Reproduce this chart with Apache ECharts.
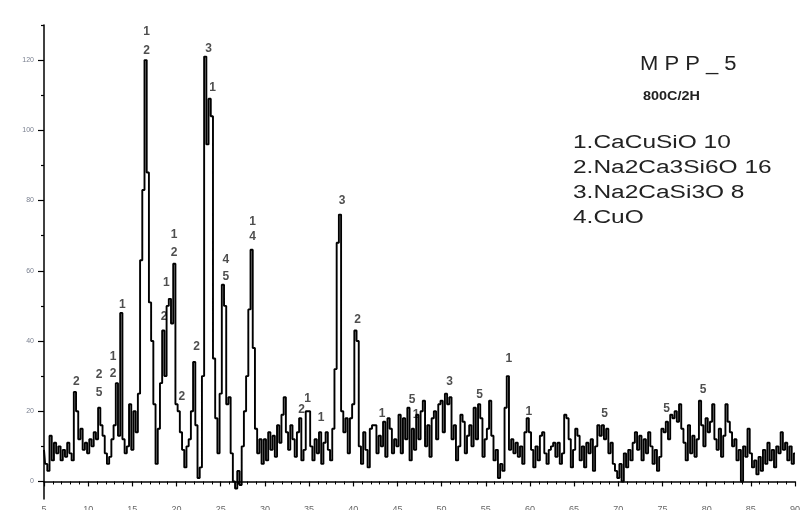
<!DOCTYPE html>
<html>
<head>
<meta charset="utf-8">
<script src="https://cdn.jsdelivr.net/npm/echarts@6/dist/echarts.min.js"></script>
<style>
  html, body { margin: 0; background: #fff; }
  #chart { width: 800px; height: 510px; }
</style>
</head>
<body>
<div id="chart"></div>
<script>
// scan grid: 2-theta from 5 deg, one reading every 0.25 deg
const twoThetaStart = 5;
const twoThetaStep = 0.25;
const intensity = [
  9, 5, 3, 13, 6, 11, 8, 10, 6, 9,
  7, 11, 8, 6, 25.5, 20, 12, 15, 9, 11,
  8, 12, 10, 14, 12, 21, 16, 13, 8, 5,
  7, 12, 16, 28, 13, 48, 12, 8, 10, 22,
  9, 20, 14, 25, 63, 83, 120, 88, 51, 40,
  22, 5, 15, 28, 43, 30, 50, 52, 45, 62,
  22, 20, 14, 9, 4, 10, 12, 20, 34, 16,
  1, 4, 30, 121, 96, 109, 104, 35, 18, 8,
  25, 56, 50, 22, 24, 8, 0, -2, 3, -1,
  10, 20, 30, 49, 66, 38, 15, 8, 12, 5,
  12, 6, 14, 9, 13, 7, 16, 11, 19, 24,
  14, 9, 16, 12, 7, 14, 18, 6, 9, 20,
  20, 10, 6, 12, 8, 14, 5, 11, 14, 9,
  6, 15, 32, 68, 76, 20, 14, 18, 8, 18,
  22, 43, 40, 10, 5, 14, 9, 4, 15, 16,
  16, 8, 13, 10, 17, 7, 18, 15, 8, 12,
  10, 19, 8, 18, 12, 21, 6, 15, 9, 19,
  12, 20, 23, 10, 16, 7, 18, 20, 12, 22,
  23, 14, 25, 22, 24, 12, 16, 6, 10, 19,
  17, 8, 13, 16, 10, 21, 12, 22, 18, 7,
  12, 15, 23, 13, 6, 9, 1, 5, 3, 21,
  30, 9, 12, 8, 11, 7, 10, 5, 14, 18,
  14, 9, 4, 10, 6, 13, 14, 8, 5, 9,
  10, 11, 7, 11, 5, 8, 19, 18, 12, 4,
  9, 15, 13, 6, 10, 4, 11, 8, 12, 3,
  10, 16, 13, 16, 12, 15, 8, 11, 5, 3,
  1, 5, 0, 8, 4, 9, 6, 11, 14, 9,
  13, 6, 12, 8, 14, 10, 5, 9, 3, 7,
  15, 14, 17, 12, 19, 18, 20, 17, 22, 15,
  11, 6, 16, 8, 13, 7, 12, 23, 16, 10,
  18, 14, 17, 22, 12, 9, 15, 7, 13, 22,
  17, 14, 10, 12, 6, 9, 0, 10, 7, 15,
  8, 4, 6, 2, 7, 3, 9, 5, 11, 6,
  9, 4, 10, 8, 14, 9, 11, 6, 10, 5, 8
];

// phase marks above the peaks
const peakLabelX = [8.66, 11.23, 11.23, 12.82, 12.82, 13.87, 16.6, 16.6, 18.86, 18.6,
  19.73, 19.73, 20.6, 22.26, 23.62, 24.07, 25.59, 25.59, 28.61, 28.61,
  34.16, 34.84, 36.36, 38.74, 40.5, 43.27, 46.67, 47.12, 50.9, 54.3,
  57.62, 59.88, 68.46, 75.46, 79.6];
const peakLabelY = [28.4, 30.3, 25.3, 35.5, 30.8, 50.3, 128.2, 122.8, 56.5, 46.9,
  70.2, 65.2, 24.1, 38.4, 123.2, 112.1, 63.3, 58.4, 74, 69.7,
  20.4, 23.7, 18.3, 80, 46.2, 19.4, 23.2, 18.9, 28.4, 24.6,
  35.1, 19.9, 19.4, 20.8, 26.1];
const peakLabelText = ["2", "2", "5", "1", "2", "1", "1", "2", "1", "2",
  "1", "2", "2", "2", "3", "1", "4", "5", "1", "4",
  "2", "1", "1", "3", "2", "1", "5", "1", "3", "5",
  "1", "1", "5", "5", "5"];

const yLabelValues = [0, 20, 40, 60, 80, 100, 120];
const yMinorTicks = [10, 30, 50, 70, 90, 110, 130];

const sampleName = "M P P _ 5";
const sampleNote = "800C/2H";
const phaseNames = ["1.CaCuSiO 10", "2.Na2Ca3Si6O 16", "3.Na2CaSi3O 8", "4.CuO"];

const chart = echarts.init(document.getElementById("chart"));

const points = intensity.map((v, i) => [twoThetaStart + i * twoThetaStep, v]);
const marks = peakLabelX.map((x, i) => [x, peakLabelY[i], peakLabelText[i]]);

const font = '"Liberation Sans", Arial, sans-serif';

const phaseText = phaseNames.map((t, i) => ({
  type: "text",
  x: 573,
  y: 143 + i * 25,
  scaleX: 1.36,
  style: {
    text: t,
    font: '18px ' + font,
    fill: "#222",
    textVerticalAlign: "middle"
  }
}));

const option = {
  animation: false,
  backgroundColor: "#fff",
  grid: { left: 44, right: 5, top: 25, bottom: 11, outerBoundsMode: "none" },
  xAxis: {
    type: "value",
    min: 5,
    max: 90,
    interval: 5,
    axisLine: { lineStyle: { color: "#000", width: 1.5 } },
    axisTick: { length: 5, lineStyle: { color: "#000", width: 1.2 } },
    minorTick: { show: true, splitNumber: 5, length: 3, lineStyle: { color: "#000", width: 1 } },
    splitLine: { show: false },
    axisLabel: { fontSize: 9, color: "#666", margin: 6, fontFamily: font, hideOverlap: false }
  },
  yAxis: [
    {
      type: "value",
      min: -5,
      max: 130,
      axisLine: { show: true, lineStyle: { color: "#000", width: 1.5 } },
      axisTick: { show: true, customValues: yLabelValues, length: 6, lineStyle: { color: "#000", width: 1.2 } },
      axisLabel: { customValues: yLabelValues, fontSize: 7, color: "#7a8090", margin: 10, fontFamily: font },
      splitLine: { show: false }
    },
    {
      type: "value",
      min: -5,
      max: 130,
      position: "left",
      axisLine: { show: false },
      axisTick: { show: true, customValues: yMinorTicks, length: 3, lineStyle: { color: "#000", width: 1.2 } },
      axisLabel: { show: false },
      splitLine: { show: false }
    }
  ],
  series: [
    {
      type: "line",
      data: points,
      step: "middle",
      symbol: "none",
      lineStyle: { color: "#000", width: 1.9 },
      silent: true
    },
    {
      type: "scatter",
      data: marks,
      symbolSize: 0,
      silent: true,
      label: {
        show: true,
        position: "inside",
        formatter: p => p.value[2],
        fontSize: 12,
        fontWeight: "bold",
        color: "#222",
        fontFamily: font
      }
    }
  ],
  graphic: [
    {
      type: "text",
      x: 640,
      y: 64,
      scaleX: 1.1,
      style: { text: sampleName, font: '20px ' + font, fill: "#222", textVerticalAlign: "middle" }
    },
    {
      type: "text",
      x: 643,
      y: 97,
      scaleX: 1.2,
      style: { text: sampleNote, font: 'bold 12px ' + font, fill: "#222", textVerticalAlign: "middle" }
    }
  ].concat(phaseText)
};

chart.setOption(option);
</script>
</body>
</html>
